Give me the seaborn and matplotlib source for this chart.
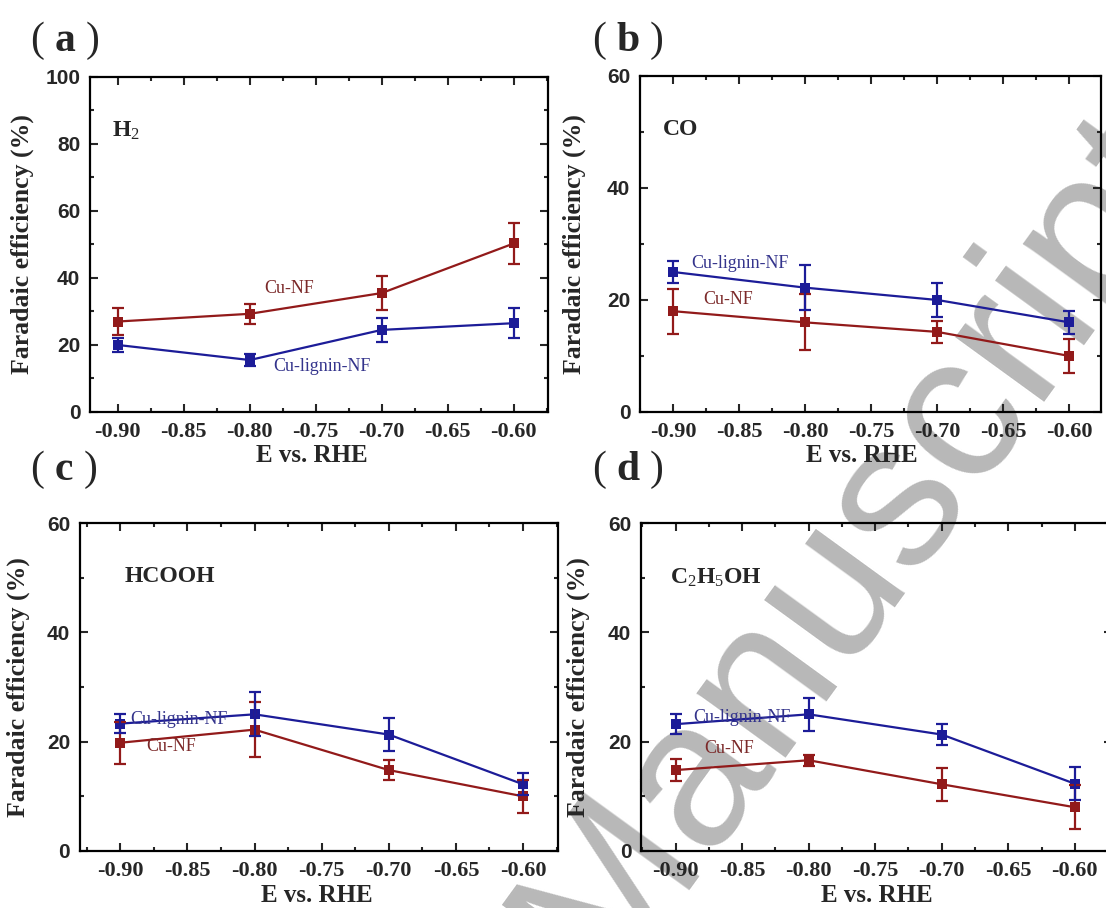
import numpy as np
import pandas as pd
import seaborn as sns
import matplotlib.pyplot as plt
from matplotlib.ticker import MultipleLocator

# potentials (V vs. RHE)
potential = [-0.90, -0.80, -0.70, -0.60]

# (a) H2
h2_cunf = [27.0, 29.3, 35.5, 50.3]
h2_cunf_err = [4.0, 3.0, 5.0, 6.0]
h2_lig = [20.0, 15.5, 24.5, 26.5]
h2_lig_err = [2.0, 1.8, 3.5, 4.5]

# (b) CO
co_cunf = [18.0, 16.0, 14.3, 10.0]
co_cunf_err = [4.0, 5.0, 2.0, 3.0]
co_lig = [25.0, 22.2, 20.0, 16.0]
co_lig_err = [2.0, 4.0, 3.0, 2.0]

# (c) HCOOH
hcooh_cunf = [19.8, 22.2, 14.8, 10.0]
hcooh_cunf_err = [3.8, 5.0, 1.8, 3.0]
hcooh_lig = [23.3, 25.0, 21.3, 12.2]
hcooh_lig_err = [1.8, 4.0, 3.0, 2.0]

# (d) C2H5OH
etoh_cunf = [14.8, 16.6, 12.2, 8.0]
etoh_cunf_err = [2.0, 1.0, 3.0, 4.0]
etoh_lig = [23.2, 25.0, 21.3, 12.3]
etoh_lig_err = [1.8, 3.0, 2.0, 3.0]

samples = ['Cu-NF', 'Cu-lignin-NF']
products = ['H$_2$', 'CO', 'HCOOH', 'C$_2$H$_5$OH']
panel_letters = ['a', 'b', 'c', 'd']

red = '#921a1a'
blue = '#1c1c98'
red_txt = '#7c2a2a'
blue_txt = '#34348c'

sns.set_theme(style='ticks')
plt.rcParams['font.family'] = ['Liberation Serif', 'DejaVu Serif']
plt.rcParams['mathtext.fontset'] = 'custom'
plt.rcParams['mathtext.rm'] = 'Liberation Serif'
plt.rcParams['mathtext.it'] = 'Liberation Serif:italic'
plt.rcParams['mathtext.bf'] = 'Liberation Serif:bold'

fig = plt.figure(figsize=(11.06, 9.08), dpi=100)

# faint watermark behind the panels
fig.text(0.775, 0.40, 'Manuscript', rotation=54, fontsize=150, color='#b8b8b8',
         family='Liberation Sans', ha='center', va='center', zorder=-1)

positions = [
    [0.0814, 0.5463, 0.4141, 0.3689],
    [0.5787, 0.5463, 0.4168, 0.3700],
    [0.0723, 0.0628, 0.4322, 0.3612],
    [0.5796, 0.0628, 0.4259, 0.3612],
]
xlims = [(-0.921, -0.574), (-0.925, -0.576), (-0.930, -0.574), (-0.926, -0.572)]
ymaxs = [100, 60, 60, 60]
ylab_x = [-0.122, -0.117, -0.105, -0.108]
xlab_x = [0.485, 0.48, 0.496, 0.50]
xlab_y = [-0.096, -0.096, -0.100, -0.100]

series = [
    (h2_cunf, h2_cunf_err, h2_lig, h2_lig_err),
    (co_cunf, co_cunf_err, co_lig, co_lig_err),
    (hcooh_cunf, hcooh_cunf_err, hcooh_lig, hcooh_lig_err),
    (etoh_cunf, etoh_cunf_err, etoh_lig, etoh_lig_err),
]

# label positions (data coords): product, Cu-NF, Cu-lignin-NF
product_pos = [(-0.904, 84), (-0.908, 50.4), (-0.897, 50.3), (-0.904, 50.0)]
cunf_pos = [(-0.77, 37.0), (-0.858, 20.0), (-0.862, 19.2), (-0.860, 18.8)]
lig_pos = [(-0.745, 13.7), (-0.849, 26.6), (-0.856, 24.1), (-0.850, 24.5)]

panel_xy = [(0.027, 0.955), (0.535, 0.955), (0.027, 0.482), (0.535, 0.482)]

for i in range(4):
    ax = fig.add_axes(positions[i])
    ax.set_facecolor('none')
    cunf, cunf_err, lig, lig_err = series[i]
    df = pd.DataFrame({
        'E': potential * 2,
        'FE': cunf + lig,
        'sample': [samples[0]] * 4 + [samples[1]] * 4,
    })
    sns.lineplot(data=df, x='E', y='FE', hue='sample', palette=[red, blue],
                 marker='s', markersize=7, markeredgewidth=0, linewidth=1.6,
                 legend=False, ax=ax)
    ax.errorbar(potential, cunf, yerr=cunf_err, fmt='none', ecolor=red,
                elinewidth=1.6, capsize=4, capthick=1.6)
    ax.errorbar(potential, lig, yerr=lig_err, fmt='none', ecolor=blue,
                elinewidth=1.6, capsize=4, capthick=1.6)

    ax.set_xlim(*xlims[i])
    ax.set_ylim(0, ymaxs[i])
    ax.xaxis.set_major_locator(MultipleLocator(0.05))
    ax.xaxis.set_minor_locator(MultipleLocator(0.025))
    ax.yaxis.set_major_locator(MultipleLocator(20))
    ax.yaxis.set_minor_locator(MultipleLocator(10))
    ax.tick_params(which='both', direction='in', top=True, right=True, width=1.5)
    ax.tick_params(which='major', length=6)
    ax.tick_params(which='minor', length=3)
    ax.tick_params(axis='x', pad=7)
    ax.tick_params(axis='y', pad=7)
    for s in ax.spines.values():
        s.set_linewidth(1.6)
        s.set_color('black')

    ax.set_xticks(potential + [-0.85, -0.75, -0.65])
    ax.set_xticklabels(['%.2f' % v for v in ax.get_xticks()])
    for lab in ax.get_xticklabels():
        lab.set_fontsize(16)
        lab.set_fontweight('bold')
        lab.set_family('Liberation Serif')
    for lab in ax.get_yticklabels():
        lab.set_fontsize(15)
        lab.set_fontweight('bold')
        lab.set_family('Liberation Sans')

    ax.set_xlabel('E vs. RHE', fontsize=18, fontweight='bold', va='top')
    ax.set_ylabel('Faradaic efficiency (%)', fontsize=18.5, fontweight='bold')
    ax.xaxis.set_label_coords(xlab_x[i], xlab_y[i])
    ax.yaxis.set_label_coords(ylab_x[i], 0.5)

    ax.text(*product_pos[i], products[i], fontsize=17, fontweight='bold',
            ha='left', va='center')
    ax.text(*cunf_pos[i], samples[0], fontsize=13, color=red_txt,
            ha='center', va='center')
    ax.text(*lig_pos[i], samples[1], fontsize=13, color=blue_txt,
            ha='center', va='center')

    fig.text(*panel_xy[i], r'$($ $\mathbf{%s}$ $)$' % panel_letters[i],
             fontsize=30, ha='left', va='center')

fig.savefig('out.png', dpi=100)
